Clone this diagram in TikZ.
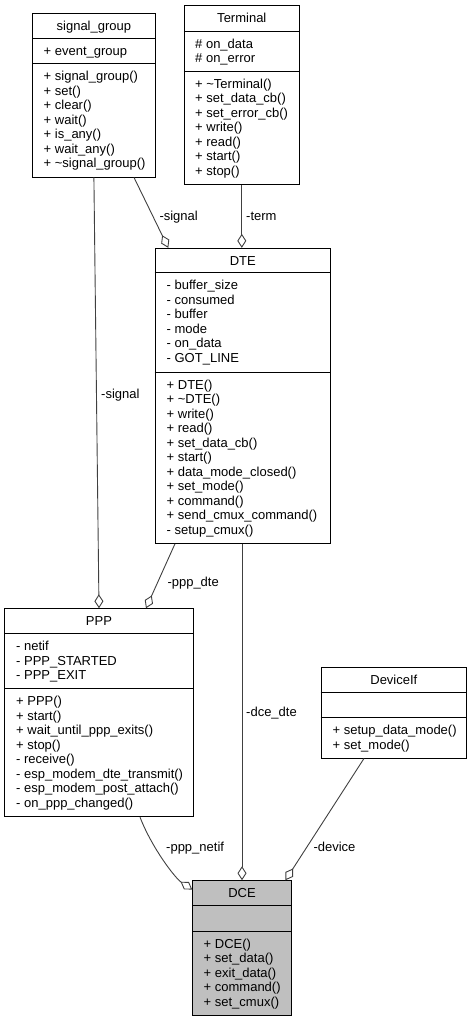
\documentclass[tikz,border=0pt]{standalone}
\usepackage{fontspec}
\setmainfont{Liberation Sans}
\usetikzlibrary{arrows.meta}

\definecolor{edgegray}{RGB}{64,64,64}
\definecolor{dcegray}{RGB}{191,191,191}

\begin{document}
\begin{tikzpicture}[x=1pt,y=-1pt,
  font=\fontsize{13}{14.5}\selectfont,
  cls/.style={draw=black, line width=0.9pt, fill=white, inner sep=0pt},
  rows/.style={anchor=north west, align=left, inner sep=0pt},
  title/.style={anchor=base, inner sep=0pt},
  aggr/.style={draw=edgegray, line width=0.9pt, -{Diamond[length=14pt,width=9pt,fill=white]}},
  lbl/.style={anchor=base west, inner sep=0pt}]
\useasboundingbox (0,0) rectangle (472,1021);

% signal_group
\node[cls, minimum width=122.8pt, minimum height=163.7pt] (sg) at (93.9,95.15) {};
\draw[line width=0.9pt] (sg.west |- 0,38.3) -- (sg.east |- 0,38.3);
\draw[line width=0.9pt] (sg.west |- 0,63.3) -- (sg.east |- 0,63.3);
\node[title] (sgT) at (93.9,30.3) {signal\_group};
\node[rows] (sgA) at (43.5,45.2) {\strut + event\_group};
\node[rows] (sgM) at (43.5,70.2) {\strut + signal\_group()\\+ set()\\+ clear()\\+ wait()\\+ is\_any()\\+ wait\_any()\\+ \textasciitilde signal\_group()};

% Terminal
\node[cls, minimum width=115pt, minimum height=178.6pt] (term) at (241.8,95) {};
\draw[line width=0.9pt] (term.west |- 0,31) -- (term.east |- 0,31);
\draw[line width=0.9pt] (term.west |- 0,71) -- (term.east |- 0,71);
\node[title] (termT) at (241.8,22.7) {Terminal};
\node[rows] (termA) at (195,37.9) {\strut \# on\_data\\\# on\_error};
\node[rows] (termM) at (195,77.9) {\strut + \textasciitilde Terminal()\\+ set\_data\_cb()\\+ set\_error\_cb()\\+ write()\\+ read()\\+ start()\\+ stop()};

% DTE
\node[cls, minimum width=175.7pt, minimum height=295pt] (dte) at (242.85,395.8) {};
\draw[line width=0.9pt] (dte.west |- 0,272.7) -- (dte.east |- 0,272.7);
\draw[line width=0.9pt] (dte.west |- 0,372) -- (dte.east |- 0,372);
\node[title] (dteT) at (242.85,265.3) {DTE};
\node[rows] (dteA) at (166.5,279.6) {\strut - buffer\_size\\- consumed\\- buffer\\- mode\\- on\_data\\- GOT\_LINE};
\node[rows] (dteM) at (166.5,378.9) {\strut + DTE()\\+ \textasciitilde DTE()\\+ write()\\+ read()\\+ set\_data\_cb()\\+ start()\\+ data\_mode\_closed()\\+ set\_mode()\\+ command()\\+ send\_cmux\_command()\\- setup\_cmux()};

% PPP
\node[cls, minimum width=188.6pt, minimum height=208pt] (ppp) at (99,712.7) {};
\draw[line width=0.9pt] (ppp.west |- 0,633.3) -- (ppp.east |- 0,633.3);
\draw[line width=0.9pt] (ppp.west |- 0,688.3) -- (ppp.east |- 0,688.3);
\node[title] (pppT) at (99,625.7) {PPP};
\node[rows] (pppA) at (16,640.2) {\strut - netif\\- PPP\_STARTED\\- PPP\_EXIT};
\node[rows] (pppM) at (16,695.2) {\strut + PPP()\\+ start()\\+ wait\_until\_ppp\_exits()\\+ stop()\\- receive()\\- esp\_modem\_dte\_transmit()\\- esp\_modem\_post\_attach()\\- on\_ppp\_changed()};

% DeviceIf
\node[cls, minimum width=145.7pt, minimum height=90.7pt] (devif) at (393.85,712.65) {};
\draw[line width=0.9pt] (devif.west |- 0,692.7) -- (devif.east |- 0,692.7);
\draw[line width=0.9pt] (devif.west |- 0,717.7) -- (devif.east |- 0,717.7);
\node[title] (devifT) at (393.85,684.3) {DeviceIf};
\node[rows] (devifM) at (332.5,724.6) {\strut + setup\_data\_mode()\\+ set\_mode()};

% DCE
\node[cls, fill=dcegray, minimum width=98.6pt, minimum height=134.3pt] (dce) at (242,947.85) {};
\draw[line width=0.9pt] (dce.west |- 0,905.7) -- (dce.east |- 0,905.7);
\draw[line width=0.9pt] (dce.west |- 0,931) -- (dce.east |- 0,931);
\node[title] (dceT) at (242,897.7) {DCE};
\node[rows] (dceM) at (203.5,937.9) {\strut + DCE()\\+ set\_data()\\+ exit\_data()\\+ command()\\+ set\_cmux()};

% aggregations
\draw[aggr] ([xshift=40.1pt]sg.south) -- ([xshift=-74.55pt]dte.north);
\draw[aggr] (term.south) -- (term.south |- dte.north);
\draw[aggr] (sg.south) -- (ppp.north);
\draw[aggr] ([xshift=-67.85pt]dte.south) -- ([xshift=47pt]ppp.north);
\draw[aggr] (dte.south -| dce.north) -- (dce.north);
\draw[aggr] ([xshift=41pt]ppp.south) .. controls (152,848) and (175,878) .. ([yshift=-9.3pt]dce.north west);
\draw[aggr] ([xshift=-29.85pt]devif.south) -- ([xshift=-6.3pt]dce.north east);

\node[lbl] (l1) at (159.3,220) {-signal};
\node[lbl] (l2) at (246,220) {-term};
\node[lbl] (l3) at (101,398.3) {-signal};
\node[lbl] (l4) at (167.3,586) {-ppp\_dte};
\node[lbl] (l5) at (246,716) {-dce\_dte};
\node[lbl] (l6) at (166,851.7) {-ppp\_netif};
\node[lbl] (l7) at (313.3,851.7) {-device};
\end{tikzpicture}
\end{document}
